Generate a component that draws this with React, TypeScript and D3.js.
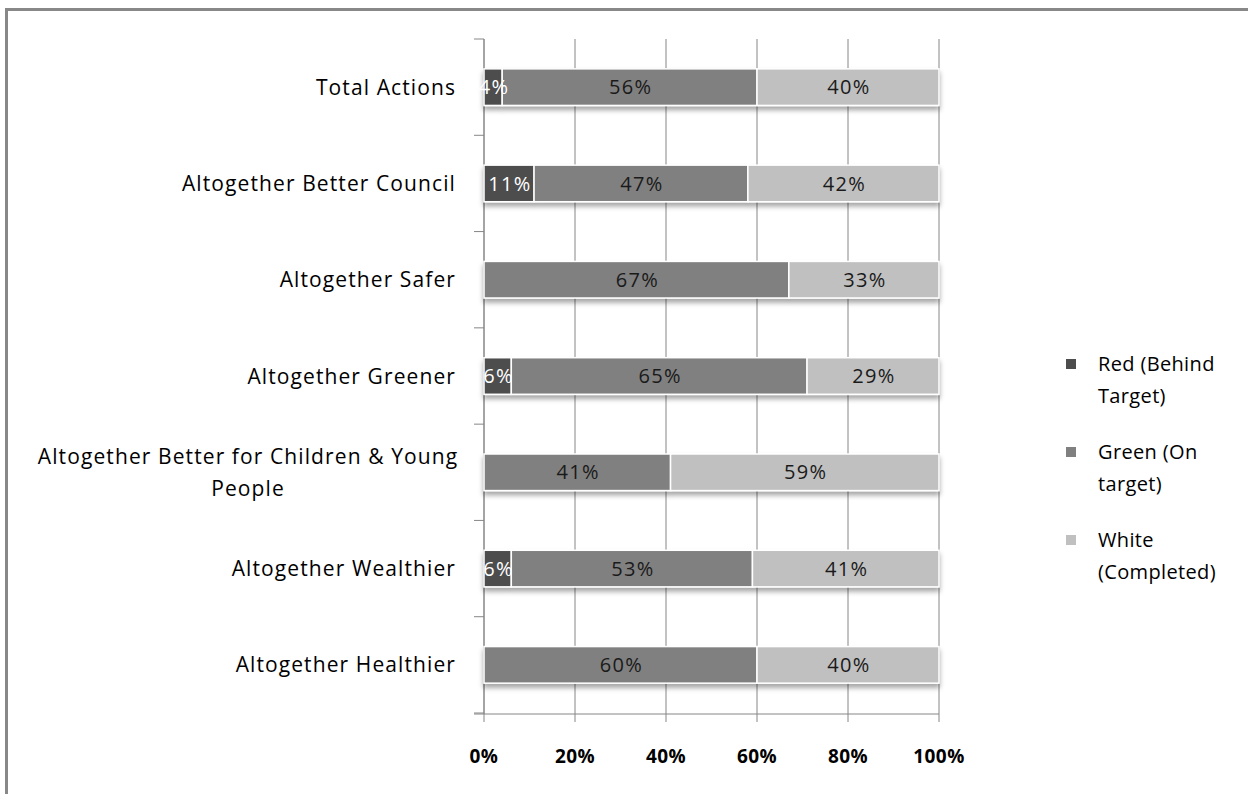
import React from "react";
import * as d3 from "d3";

const categories = [
  "Total Actions",
  "Altogether Better Council",
  "Altogether Safer",
  "Altogether Greener",
  "Altogether Better for Children & Young People",
  "Altogether Wealthier",
  "Altogether Healthier",
];
const redValues = [4, 11, 0, 6, 0, 6, 0];
const greenValues = [56, 47, 67, 65, 41, 53, 60];
const whiteValues = [40, 42, 33, 29, 59, 41, 40];
const seriesNames = ["Red (Behind Target)", "Green (On target)", "White (Completed)"];
const legendLines = [["Red (Behind", "Target)"], ["Green (On", "target)"], ["White", "(Completed)"]];
const categoryLines: Record<string, string[]> = {
  "Altogether Better for Children & Young People": ["Altogether Better for Children & Young", "People"],
};
const xTicks = [0, 0.2, 0.4, 0.6, 0.8, 1];
const colors = ["#4d4d4d", "#808080", "#c0c0c0"];
const labelColors = ["#ffffff", "#1a1a1a", "#1a1a1a"];

const FONT = "'Open Sans', sans-serif";

export default function App() {
  const W = 1248, H = 794;
  const x = d3.scaleLinear().domain([0, 1]).range([484, 939]);
  const y = d3.scaleBand().domain(categories).range([39, 713]).paddingInner(0.62).paddingOuter(0.31);
  const bandStep = y.step();
  const rows = categories.map((c, i) => ({ c, vals: [redValues[i], greenValues[i], whiteValues[i]] }));
  const stack = d3.stack<any>().keys(["0", "1", "2"]).value((d: any, k) => d.vals[+k] / 100);
  const series = stack(rows as any);
  const boundaries = d3.range(categories.length + 1).map((i) => 39 + i * bandStep);

  return (
    <svg width={W} height={H} style={{ position: "absolute", left: 0, top: 0, background: "#fff" }}>
      <defs>
        <filter id="sh" x="-5%" y="-30%" width="110%" height="180%">
          <feDropShadow dx="0" dy="4" stdDeviation="2.5" floodColor="#000" floodOpacity="0.35" />
        </filter>
      </defs>
      <rect x={0} y={0} width={W} height={H} fill="#fff" />
      <rect x={6.5} y={9.5} width={W + 10} height={H + 10} fill="none" stroke="#888" strokeWidth={3} />
      {/* gridlines */}
      {xTicks.map((t) => (
        <line key={"g" + t} x1={x(t)} x2={x(t)} y1={39} y2={722} stroke="#868686" strokeWidth={1} />
      ))}
      {/* category axis */}
      <line x1={484} x2={484} y1={39} y2={714} stroke="#868686" />
      {boundaries.map((b, i) => (
        <line key={"t" + i} x1={474} x2={484} y1={b} y2={b} stroke="#868686" />
      ))}
      <line x1={474} x2={939} y1={714} y2={714} stroke="#868686" />
      {/* bars */}
      {categories.map((c, i) => (
        <g key={c} filter="url(#sh)">
          {series.map((s, k) => {
            const d = s[i];
            const w = x(d[1]) - x(d[0]);
            if (w <= 0) return null;
            return (
              <rect key={k} x={x(d[0])} y={y(c)!} width={w} height={y.bandwidth()} fill={colors[k]} stroke="#fff" strokeWidth={1.5} />
            );
          })}
        </g>
      ))}
      {categories.map((c, i) =>
        series.map((s, k) => {
          const d = s[i];
          const v = rows[i].vals[k];
          if (v <= 0) return null;
          return (
            <text key={c + k} x={(x(d[0]) + x(d[1])) / 2 + 1} y={y(c)! + y.bandwidth() / 2} dy="0.36em" textAnchor="middle"
              fontFamily={FONT} fontSize={20} letterSpacing={1.3} fill={labelColors[k]}>
              {v}%
            </text>
          );
        })
      )}
      {/* category labels */}
      {categories.map((c) => {
        const lines = categoryLines[c];
        const cy = y(c)! + y.bandwidth() / 2;
        if (lines) {
          return (
            <text key={"l" + c} fontFamily={FONT} fontSize={21} letterSpacing={1.1} fill="#000" textAnchor="middle">
              {lines.map((ln, j) => (
                <tspan key={j} x={248} y={cy + (j - (lines.length - 1) / 2) * 32} dy="0.36em">{ln}</tspan>
              ))}
            </text>
          );
        }
        return (
          <text key={"l" + c} x={456} y={cy} dy="0.36em" textAnchor="end" fontFamily={FONT} fontSize={21} letterSpacing={1.1} fill="#000">
            {c}
          </text>
        );
      })}
      {/* x tick labels */}
      {xTicks.map((t) => (
        <text key={"x" + t} x={x(t)} y={756} dy="0.36em" textAnchor="middle" fontFamily={FONT} fontSize={19} letterSpacing={0.4} fontWeight="bold" fill="#000">
          {d3.format(".0%")(t)}
        </text>
      ))}
      {/* legend */}
      {seriesNames.map((n, k) => (
        <g key={n}>
          <rect x={1066} y={359 + k * 88} width={10} height={10} fill={colors[k]} />
          <text fontFamily={FONT} fontSize={20} letterSpacing={0.35} fill="#000">
            {legendLines[k].map((ln, j) => (
              <tspan key={j} x={1098} y={364 + k * 88 + j * 32} dy="0.36em">{ln}</tspan>
            ))}
          </text>
        </g>
      ))}
    </svg>
  );
}
